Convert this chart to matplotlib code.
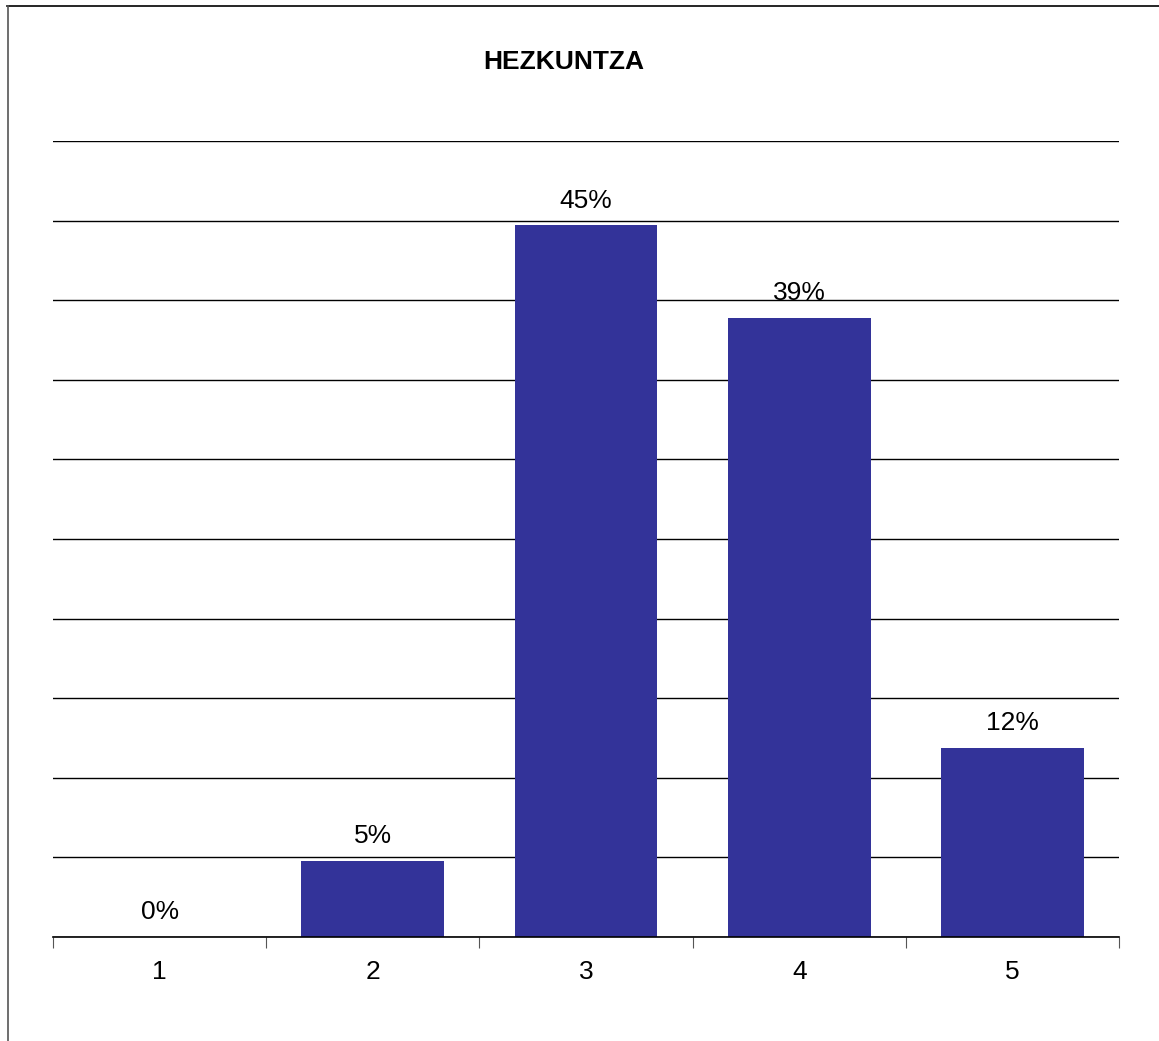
import matplotlib
matplotlib.use("Agg")
import matplotlib.pyplot as plt
from matplotlib.lines import Line2D

plt.rcParams["font.family"] = ["Liberation Sans", "DejaVu Sans"]

categories = ["1", "2", "3", "4", "5"]
values = [0.0, 4.8, 44.7, 38.9, 11.9]
labels = ["0%", "5%", "45%", "39%", "12%"]
title = "HEZKUNTZA"

W, H = 1159, 1041
fig = plt.figure(figsize=(W / 100, H / 100), dpi=100)
ax = fig.add_axes([53 / W, (H - 937) / H, (1119 - 53) / W, (937 - 141) / H])

x = list(range(len(categories)))
ax.bar(x, values, width=0.67, color="#333399", zorder=3)
ax.set_xlim(-0.5, len(categories) - 0.5)
ax.set_ylim(0, 50)
ax.set_yticks([i * 5 for i in range(11)])
ax.yaxis.grid(True, color="black", linewidth=1.0, zorder=1)
ax.tick_params(axis="y", left=False, labelleft=False)
for s in ["left", "right", "top"]:
    ax.spines[s].set_visible(False)
ax.spines["bottom"].set_color("black")
ax.spines["bottom"].set_linewidth(1.2)
ax.spines["bottom"].set_zorder(4)

ax.set_xticks([i - 0.5 for i in range(len(categories) + 1)], minor=False)
ax.set_xticklabels([])
ax.tick_params(axis="x", which="major", length=8, color="#555555", direction="out")
ax.set_xticks(x, minor=True)
ax.set_xticklabels(categories, minor=True, fontsize=19)
ax.tick_params(axis="x", which="minor", length=0, pad=16.5)

for xi, v, lab in zip(x, values, labels):
    ax.text(xi, v + 1.1, lab, ha="center", va="baseline", fontsize=19, zorder=5)

fig.text(564 / W, 1 - 69 / H, title, ha="center", va="baseline", fontsize=19, fontweight="bold")

fig.add_artist(Line2D([7 / W, 1], [1 - 6 / H, 1 - 6 / H], color="black", linewidth=1.2))
fig.add_artist(Line2D([7.5 / W, 7.5 / W], [0, 1 - 6 / H], color="#555555", linewidth=1.2))

fig.savefig("out.png", dpi=100)
